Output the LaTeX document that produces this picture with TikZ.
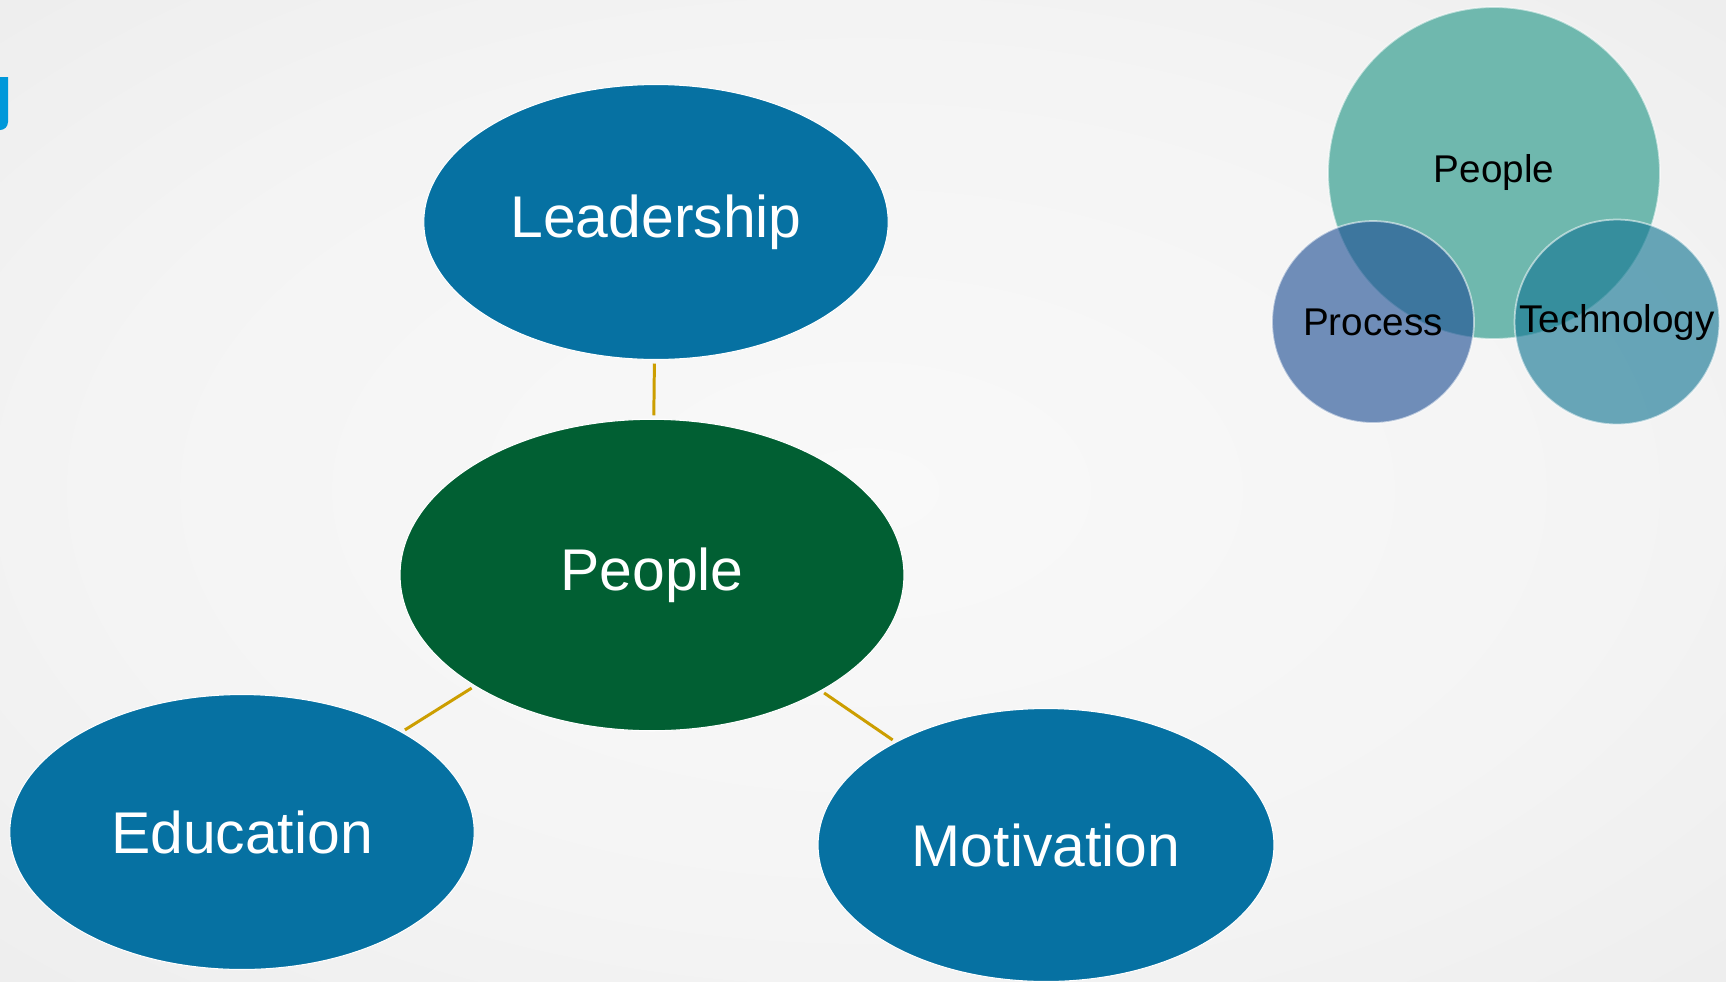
\documentclass[tikz,border=0pt]{standalone}
\usepackage{fontspec}
\setmainfont{Liberation Sans}
\usetikzlibrary{shapes.geometric}

\definecolor{bubbleblue}{RGB}{6,113,162}
\definecolor{hubgreen}{RGB}{1,95,51}
\definecolor{linkgold}{RGB}{204,158,0}
\definecolor{markblue}{RGB}{0,152,218}
\definecolor{vennteal}{RGB}{111,184,174}
\definecolor{vennblue}{RGB}{33,81,149}
\definecolor{venncyan}{RGB}{21,119,148}
\definecolor{bgin}{RGB}{249,249,249}
\definecolor{bgmid}{RGB}{244,244,244}
\definecolor{bgedge}{RGB}{231,231,231}
\definecolor{bgout}{RGB}{214,214,214}

% soft slide background
\pgfdeclareradialshading{slidebg}{\pgfpoint{0bp}{0bp}}{color(0bp)=(bgin); color(22bp)=(bgmid); color(50bp)=(bgedge); color(72bp)=(bgout)}

\tikzset{
  bubble/.style={ellipse, fill=bubbleblue, draw=white, line width=0.6pt, inner sep=0pt,
    minimum width=9.29cm, minimum height=5.5cm, text=white, font=\fontsize{33.5}{40}\selectfont},
  hub/.style={bubble, fill=hubgreen, minimum width=10.08cm, minimum height=6.23cm},
  link/.style={draw=linkgold, line width=1.7pt, shorten <=2pt, shorten >=2pt},
  venn/.style={circle, inner sep=0pt, draw=white, draw opacity=0.55, line width=1pt,
    text=black, text opacity=1, font=\fontsize{22}{26}\selectfont},
}

\begin{document}
\begin{tikzpicture}[x=0.02cm, y=-0.02cm]
        \useasboundingbox (0,0) rectangle (1726,981);
        \shade[shading=slidebg] (0,0) rectangle (1726,981);

        % cut-off mark on the left edge
        \fill[markblue] (0,77) -- (8,77) -- (8,122) arc[start angle=0, end angle=90, radius=8] -- (0,130) -- cycle;

        \node[bubble] (lead) at (656,222) {Leadership};
        \node[hub] (ppl) at (652,575) {People};
        \node[bubble] (edu) at (242,832) {Education};
        \node[bubble, minimum width=9.12cm, minimum height=5.46cm] (motiv) at (1046,845) {Motivation};

        \draw[link] (lead) -- (ppl);
        \draw[link] (ppl) -- (edu);
        \draw[link] (ppl) -- (motiv);

        % small venn, top right
        \node[venn, fill=vennteal, minimum size=6.64cm] (vppl) at (1494,173) {People};
        \node[venn, fill=vennblue, fill opacity=0.63, minimum size=4.04cm] (vproc) at (1373,322) {Process};
        \node[venn, fill=venncyan, fill opacity=0.63, minimum size=4.1cm] (vtech) at (1617,322) {Technology};
    \end{tikzpicture}
\end{document}
